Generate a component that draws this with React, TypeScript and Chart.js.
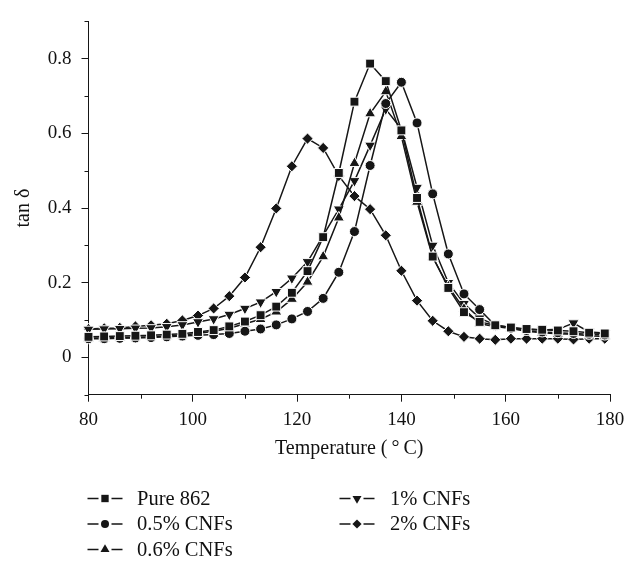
import React, { useEffect, useRef } from 'react';
import { Chart, registerables } from 'chart.js';

Chart.register(...registerables);

// ---------- data ----------
const temperatures = [80, 83, 86, 89, 92, 95, 98, 101, 104, 107, 110, 113, 116, 119, 122, 125, 128, 131, 134, 137, 140, 143, 146, 149, 152, 155, 158, 161, 164, 167, 170, 173, 176, 179];

const pure862 = [0.055, 0.056, 0.057, 0.058, 0.059, 0.061, 0.063, 0.068, 0.073, 0.083, 0.096, 0.113, 0.136, 0.173, 0.231, 0.322, 0.494, 0.685, 0.787, 0.740, 0.608, 0.427, 0.270, 0.186, 0.121, 0.095, 0.086, 0.080, 0.076, 0.074, 0.072, 0.070, 0.066, 0.064];
const cnf05 = [0.050, 0.050, 0.051, 0.052, 0.053, 0.055, 0.057, 0.059, 0.061, 0.064, 0.070, 0.076, 0.087, 0.103, 0.123, 0.158, 0.228, 0.337, 0.514, 0.680, 0.737, 0.628, 0.438, 0.277, 0.170, 0.128, 0.085, 0.078, 0.072, 0.068, 0.066, 0.064, 0.062, 0.060];
const cnf06 = [0.052, 0.052, 0.053, 0.054, 0.055, 0.057, 0.060, 0.064, 0.070, 0.078, 0.090, 0.102, 0.122, 0.156, 0.202, 0.270, 0.374, 0.520, 0.653, 0.712, 0.592, 0.416, 0.268, 0.190, 0.130, 0.090, 0.083, 0.077, 0.070, 0.066, 0.063, 0.062, 0.058, 0.056];
const cnf1 = [0.075, 0.076, 0.077, 0.078, 0.079, 0.082, 0.087, 0.095, 0.103, 0.115, 0.131, 0.148, 0.176, 0.212, 0.256, 0.326, 0.397, 0.473, 0.568, 0.665, 0.612, 0.455, 0.300, 0.200, 0.144, 0.105, 0.087, 0.080, 0.075, 0.073, 0.075, 0.092, 0.068, 0.065];
const cnf2 = [0.076, 0.078, 0.079, 0.083, 0.086, 0.090, 0.099, 0.112, 0.131, 0.164, 0.214, 0.295, 0.399, 0.512, 0.586, 0.561, 0.486, 0.432, 0.397, 0.327, 0.232, 0.152, 0.098, 0.070, 0.055, 0.050, 0.047, 0.050, 0.050, 0.050, 0.050, 0.048, 0.050, 0.050];

const seriesNames = ['Pure 862', '0.5% CNFs', '0.6% CNFs', '1% CNFs', '2% CNFs'];
const seriesValues = [pure862, cnf05, cnf06, cnf1, cnf2];

const xTickLabels = ['80', '100', '120', '140', '160', '180'];
const yTickLabels = ['0', '0.2', '0.4', '0.6', '0.8'];
const xMinorTicks = [90, 110, 130, 150, 170];
const yMinorTicks = [-0.1, 0.1, 0.3, 0.5, 0.7, 0.9];

const xTitle = 'Temperature (\u2009°\u2009C)';
const yTitle = 'tan δ';

// ---------- styles ----------
const FONT = "'Liberation Serif', 'DejaVu Serif', serif";
const INK = '#161616';
const markerStyles = [
  { pointStyle: 'rect', radius: 6.3, rotation: 0, legend: 5.2 },
  { pointStyle: 'circle', radius: 5.0, rotation: 0, legend: 4.0 },
  { pointStyle: 'triangle', radius: 6.4, rotation: 0, legend: 5.2 },
  { pointStyle: 'triangle', radius: 6.4, rotation: 180, legend: 5.2 },
  { pointStyle: 'rectRot', radius: 5.6, rotation: 0, legend: 4.6 },
];

function drawMarker(ctx: CanvasRenderingContext2D, style: string, rotation: number, x: number, y: number, r: number) {
  ctx.beginPath();
  if (style === 'rect') {
    const s = r * Math.SQRT1_2;
    ctx.rect(x - s, y - s, 2 * s, 2 * s);
  } else if (style === 'circle') {
    ctx.arc(x, y, r, 0, Math.PI * 2);
  } else if (style === 'triangle') {
    const rad = (rotation * Math.PI) / 180;
    for (let k = 0; k < 3; k++) {
      const a = rad + (k * 2 * Math.PI) / 3;
      const px = x + Math.sin(a) * r;
      const py = y - Math.cos(a) * r;
      if (k === 0) ctx.moveTo(px, py);
      else ctx.lineTo(px, py);
    }
    ctx.closePath();
  } else {
    ctx.moveTo(x, y - r);
    ctx.lineTo(x + r, y);
    ctx.lineTo(x, y + r);
    ctx.lineTo(x - r, y);
    ctx.closePath();
  }
  ctx.fill();
}

const extrasPlugin = {
  id: 'extras',
  afterDraw(chart: any) {
    const ctx: CanvasRenderingContext2D = chart.ctx;
    const xs = chart.scales.x;
    const ys = chart.scales.y;
    const area = chart.chartArea;
    ctx.save();
    ctx.strokeStyle = INK;
    ctx.lineWidth = 1;
    // minor ticks
    xMinorTicks.forEach((v) => {
      const px = Math.round(xs.getPixelForValue(v)) + 0.5;
      ctx.beginPath();
      ctx.moveTo(px, area.bottom);
      ctx.lineTo(px, area.bottom + 4);
      ctx.stroke();
    });
    yMinorTicks.forEach((v) => {
      const py = Math.round(ys.getPixelForValue(v)) + 0.5;
      ctx.beginPath();
      ctx.moveTo(area.left, py);
      ctx.lineTo(area.left - 4, py);
      ctx.stroke();
    });

    // legend
    const cols = [
      { lineX: 87.5, textX: 137 },
      { lineX: 339.5, textX: 390 },
    ];
    const rows = [498.5, 524, 549.5];
    const placement = [
      [0, 0], [0, 1], [0, 2], [1, 0], [1, 1],
    ];
    ctx.font = `20.5px ${FONT}`;
    ctx.textBaseline = 'middle';
    ctx.textAlign = 'left';
    seriesNames.forEach((name, i) => {
      const [c, r] = placement[i];
      const lx = cols[c].lineX;
      const ly = rows[r];
      const mx = lx + 17.5;
      ctx.strokeStyle = INK;
      ctx.lineWidth = 1.5;
      ctx.beginPath();
      ctx.moveTo(lx, ly);
      ctx.lineTo(mx - 6.5, ly);
      ctx.moveTo(mx + 6.5, ly);
      ctx.lineTo(lx + 35, ly);
      ctx.stroke();
      ctx.fillStyle = INK;
      const m = markerStyles[i];
      drawMarker(ctx, m.pointStyle, m.rotation, mx, ly, m.legend);
      ctx.fillStyle = '#111';
      ctx.fillText(name, cols[c].textX, ly + 1);
    });
    ctx.restore();
  },
};

export default function App() {
  const canvasRef = useRef<HTMLCanvasElement | null>(null);

  useEffect(() => {
    document.body.style.margin = '0';
    const canvas = canvasRef.current;
    if (!canvas) return;

    const datasets = seriesNames.map((name, i) => ({
      label: name,
      data: temperatures.map((t, k) => ({ x: t, y: seriesValues[i][k] })),
      borderColor: INK,
      backgroundColor: INK,
      borderWidth: 1.5,
      pointStyle: markerStyles[i].pointStyle as any,
      pointRotation: markerStyles[i].rotation,
      pointRadius: markerStyles[i].radius,
      pointBackgroundColor: INK,
      pointBorderColor: '#ffffff',
      pointBorderWidth: 1,
      tension: 0,
      clip: false as any,
    }));

    const isMajorX = (v: number) => xTickLabels.includes(String(Math.round(v)));
    const yLabelFor = (v: number) => yTickLabels.find((l) => Math.abs(Number(l) - v) < 1e-6);

    const chart = new Chart(canvas, {
      type: 'line',
      data: { datasets },
      plugins: [extrasPlugin],
      options: {
        animation: false,
        responsive: false,
        devicePixelRatio: 1,
        layout: { padding: { left: 0, top: 11, right: 25, bottom: 100.6 } },
        plugins: {
          legend: { display: false },
          tooltip: { enabled: false },
        },
        scales: {
          x: {
            type: 'linear',
            min: 80,
            max: 180,
            afterFit: (s: any) => {
              s.height = 65.7;
            },
            ticks: {
              stepSize: 20,
              color: '#111',
              font: { family: FONT, size: 19 },
              padding: 7,
              maxRotation: 0,
              callback: (v: any) => (isMajorX(Number(v)) ? String(Math.round(Number(v))) : ''),
            },
            grid: {
              display: true,
              drawOnChartArea: false,
              drawTicks: true,
              tickLength: 7,
              tickColor: INK,
              tickWidth: 1,
            },
            border: { display: true, color: INK, width: 1 },
            title: {
              display: true,
              text: xTitle,
              color: '#111',
              font: { family: FONT, size: 20 },
              padding: { top: 0, bottom: 0 },
            },
          },
          y: {
            type: 'linear',
            min: -0.1,
            max: 0.9,
            afterFit: (s: any) => {
              s.width = 88.5;
            },
            ticks: {
              stepSize: 0.2,
              color: '#111',
              font: { family: FONT, size: 19 },
              padding: 10,
              callback: (v: any) => {
                const l = yLabelFor(Number(v));
                return l === undefined ? '' : l;
              },
            },
            afterBuildTicks: (s: any) => {
              s.ticks = yTickLabels.map((l) => ({ value: Number(l) }));
            },
            grid: {
              display: true,
              drawOnChartArea: false,
              drawTicks: true,
              tickLength: 7,
              tickColor: INK,
              tickWidth: 1,
            },
            border: { display: true, color: INK, width: 1 },
            title: {
              display: true,
              text: yTitle,
              color: '#111',
              font: { family: FONT, size: 20 },
              padding: { top: 12, bottom: 0 },
            },
          },
        },
      },
    });

    return () => {
      chart.destroy();
    };
  }, []);

  return (
    <div style={{ width: 635, height: 561, background: '#fff' }}>
      <canvas ref={canvasRef} width={635} height={561} style={{ display: 'block' }} />
    </div>
  );
}
